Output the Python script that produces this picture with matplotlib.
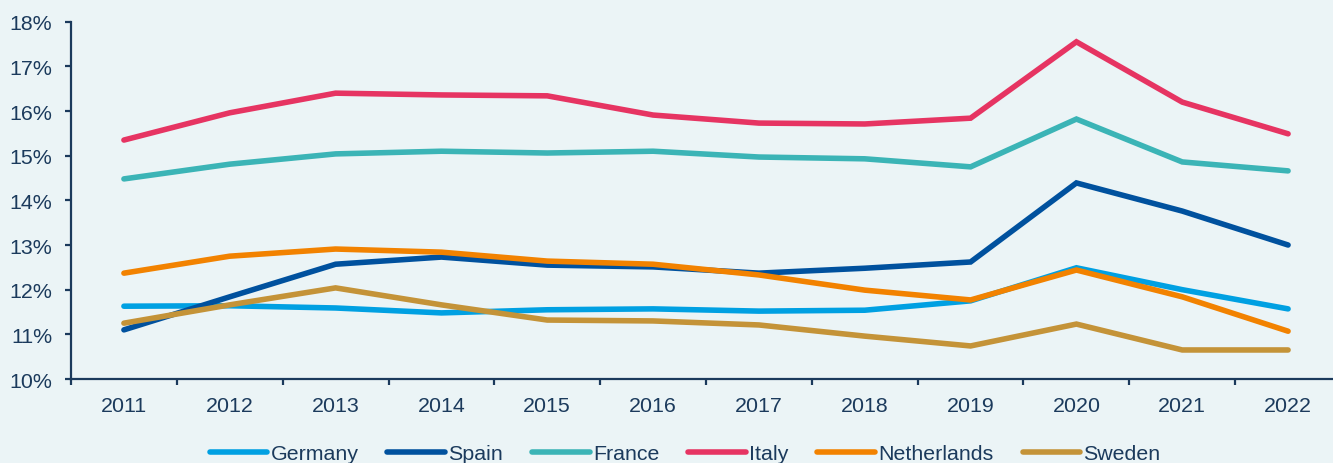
import matplotlib.pyplot as plt
import numpy as np

plt.rcParams['font.family'] = ['Liberation Sans', 'DejaVu Sans']

# Data (percent)
years = ['2011', '2012', '2013', '2014', '2015', '2016',
         '2017', '2018', '2019', '2020', '2021', '2022']
germany = [11.63, 11.64, 11.59, 11.48, 11.55, 11.57, 11.52, 11.54, 11.75, 12.49, 12.00, 11.57]
spain = [11.10, 11.84, 12.57, 12.73, 12.55, 12.51, 12.37, 12.48, 12.62, 14.39, 13.76, 13.00]
france = [14.48, 14.81, 15.04, 15.10, 15.06, 15.10, 14.97, 14.93, 14.75, 15.82, 14.86, 14.66]
italy = [15.35, 15.96, 16.40, 16.36, 16.34, 15.91, 15.73, 15.71, 15.84, 17.55, 16.20, 15.49]
netherlands = [12.37, 12.75, 12.91, 12.84, 12.64, 12.57, 12.33, 11.99, 11.77, 12.44, 11.84, 11.07]
sweden = [11.25, 11.66, 12.04, 11.66, 11.32, 11.30, 11.21, 10.96, 10.74, 11.23, 10.65, 10.65]

series = [
    ('Germany', germany, '#00A0E2'),
    ('Spain', spain, '#00519E'),
    ('France', france, '#3BB4B6'),
    ('Italy', italy, '#E63462'),
    ('Netherlands', netherlands, '#F28200'),
    ('Sweden', sweden, '#C49338'),
]

bg = '#EBF4F6'
navy = '#1B3A5C'
fs = 15.4

fig = plt.figure(figsize=(13.33, 4.64), dpi=100, facecolor=bg)
ax = fig.add_axes([71 / 1333, 1 - 380 / 464, 1270 / 1333, (380 - 22.7) / 464])
ax.set_facecolor(bg)

x = np.arange(len(years))
for name, vals, col in series:
    ax.plot(x, vals, color=col, lw=4.0, solid_capstyle='round',
            solid_joinstyle='miter', label=name)

ax.set_ylim(10, 18)
ax.set_xlim(-0.5, len(years) - 0.5)
ax.set_yticks(np.arange(10, 19, 1))
ax.set_yticklabels([f'{v}%' for v in range(10, 19)])
ax.set_xticks(x)
ax.set_xticklabels(years)
ax.set_xticks(np.arange(-0.5, len(years), 1), minor=True)

for s in ['top', 'right']:
    ax.spines[s].set_visible(False)
for s in ['left', 'bottom']:
    ax.spines[s].set_color(navy)
    ax.spines[s].set_linewidth(1.6)

ax.tick_params(axis='y', colors=navy, labelcolor=navy, labelsize=fs,
               length=4.5, width=1.6, pad=9)
ax.tick_params(axis='x', which='major', length=0, labelcolor=navy,
               labelsize=fs, pad=12)
ax.tick_params(axis='x', which='minor', length=4.5, width=1.6, color=navy)

leg = fig.legend(loc='center', bbox_to_anchor=(0.514, 0.02), ncol=6,
                 frameon=False, fontsize=fs, handlelength=2.7,
                 handletextpad=0.15, columnspacing=1.35, borderaxespad=0)
for t in leg.get_texts():
    t.set_color(navy)
for h in leg.get_lines():
    h.set_solid_capstyle('round')

fig.savefig('out.png', dpi=100, facecolor=bg)
